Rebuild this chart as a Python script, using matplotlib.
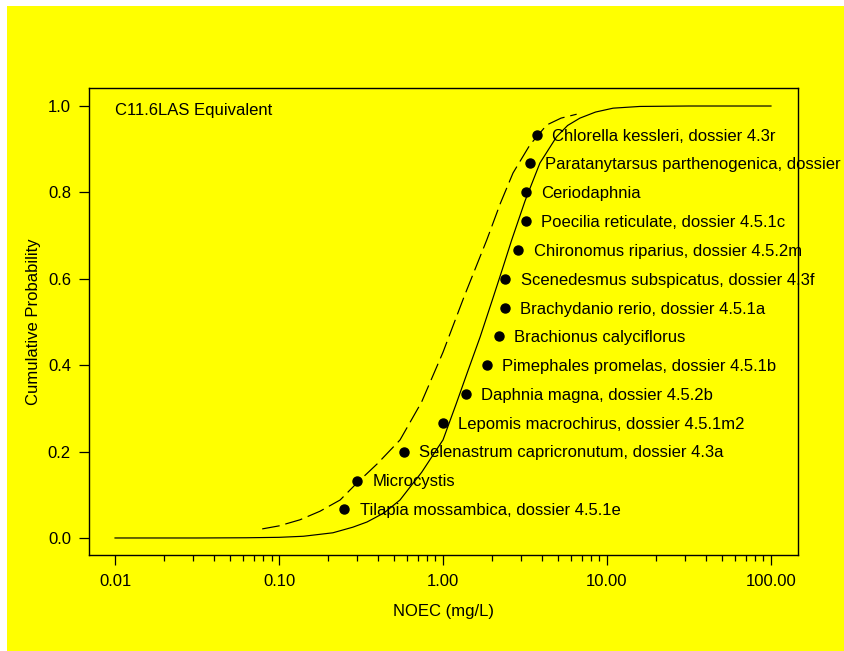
import matplotlib.pyplot as plt
from matplotlib.patches import Rectangle
from matplotlib.ticker import FixedLocator, NullFormatter

plt.rcParams['font.family'] = ['Liberation Sans', 'DejaVu Sans']

# species NOEC values (mg/L) and plotting positions
species = ["Tilapia mossambica, dossier 4.5.1e", "Microcystis",
           "Selenastrum capricronutum, dossier 4.3a", "Lepomis macrochirus, dossier 4.5.1m2",
           "Daphnia magna, dossier 4.5.2b", "Pimephales promelas, dossier 4.5.1b",
           "Brachionus calyciflorus", "Brachydanio rerio, dossier 4.5.1a",
           "Scenedesmus subspicatus, dossier 4.3f", "Chironomus riparius, dossier 4.5.2m",
           "Poecilia reticulate, dossier 4.5.1c", "Ceriodaphnia",
           "Paratanytarsus parthenogenica, dossier", "Chlorella kessleri, dossier 4.3r"]
noec = [0.25, 0.30, 0.58, 1.00, 1.38, 1.86, 2.20, 2.39, 2.40, 2.88, 3.21, 3.20, 3.39, 3.73]
cumprob = [0.067, 0.133, 0.200, 0.267, 0.333, 0.400, 0.467, 0.533,
           0.600, 0.667, 0.733, 0.800, 0.867, 0.933]

# fitted curve (solid)
fit_x = [0.01, 0.0316, 0.063, 0.1, 0.141, 0.213, 0.282, 0.344, 0.437, 0.547, 0.63, 0.741,
         0.869, 1.0, 1.202, 1.413, 1.683, 1.995, 2.291, 2.624, 3.162, 3.899, 4.932, 5.754,
         6.839, 8.511, 10.89, 15.85, 31.6, 100]
fit_y = [0.0, 0.0, 0.0005, 0.0015, 0.004, 0.012, 0.025, 0.037, 0.058, 0.088, 0.118, 0.152,
         0.192, 0.227, 0.31, 0.385, 0.465, 0.55, 0.62, 0.69, 0.78, 0.868, 0.929, 0.955,
         0.972, 0.986, 0.995, 0.999, 1.0, 1.0]

# dashed curve
lo_x = [0.079, 0.1, 0.134, 0.178, 0.236, 0.30, 0.398, 0.547, 0.741, 1.0, 1.349, 1.849,
        2.239, 2.673, 3.388, 4.285, 5.248, 6.531]
lo_y = [0.021, 0.028, 0.042, 0.062, 0.088, 0.128, 0.172, 0.227, 0.315, 0.43, 0.56, 0.69,
        0.775, 0.845, 0.91, 0.956, 0.972, 0.981]

fig = plt.figure(figsize=(8.45, 6.51), dpi=100, facecolor='white')
fig.patches.append(Rectangle((7 / 845, 0), 838 / 845, 645 / 651,
                             transform=fig.transFigure, facecolor='#ffff00',
                             edgecolor='none', zorder=-5))
ax = fig.add_axes([89 / 845, 1 - 555 / 651, 708.7 / 845, 467 / 651])
ax.set_facecolor('#ffff00')

ax.plot(fit_x, fit_y, color='black', lw=0.85)
ax.plot(lo_x, lo_y, color='black', lw=0.85, dashes=(15, 5))
ax.plot(noec, cumprob, 'o', color='black', ms=6.5)
for name, x, y in zip(species, noec, cumprob):
    ax.annotate(name, (x, y), xytext=(11, -1), textcoords='offset points',
                va='center', ha='left', fontsize=12, annotation_clip=False)

ax.text(0.01, 0.99, "C11.6LAS Equivalent", fontsize=12, va='center', ha='left')

ax.set_xscale('log')
ax.set_xlim(0.00694, 145.5)
ax.set_ylim(-0.0394, 1.0417)
ax.set_xticks([0.01, 0.1, 1, 10, 100])
ax.set_xticklabels(["0.01", "0.10", "1.00", "10.00", "100.00"])
ax.xaxis.set_minor_locator(FixedLocator([k * 10.0 ** e for e in range(-2, 2) for k in range(2, 10)]))
ax.xaxis.set_minor_formatter(NullFormatter())
ax.set_yticks([0.0, 0.2, 0.4, 0.6, 0.8, 1.0])
ax.set_yticklabels(["0.0", "0.2", "0.4", "0.6", "0.8", "1.0"])
ax.tick_params(axis='both', which='major', length=7.2, width=0.9, labelsize=12, direction='out')
ax.tick_params(axis='x', which='major', pad=6.8)
ax.tick_params(axis='y', which='major', pad=5.8)
ax.tick_params(axis='x', which='minor', length=4.3, width=0.9)
for s in ax.spines.values():
    s.set_linewidth(1.0)

ax.set_xlabel("NOEC (mg/L)", fontsize=12, labelpad=10.3)
ax.set_ylabel("Cumulative Probability", fontsize=12, labelpad=4.7)

fig.savefig("out.png", dpi=100, facecolor=fig.get_facecolor())
